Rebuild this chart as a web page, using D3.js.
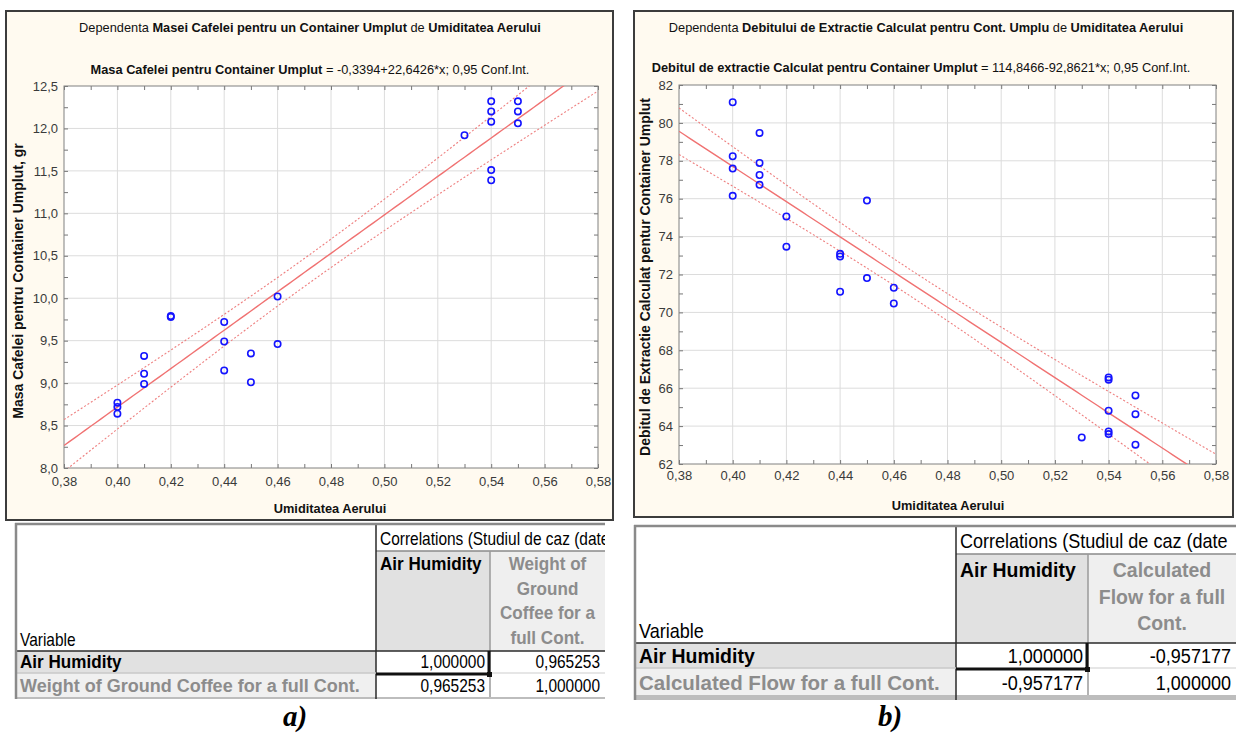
<!DOCTYPE html>
<html><head><meta charset="utf-8">
<script src="https://cdn.jsdelivr.net/npm/d3@7"></script>
<style>body{margin:0;background:#fff} svg{display:block;font-family:"Liberation Sans",Arial,sans-serif}</style>
</head><body>
<svg id="c" width="1236" height="735"></svg>
<script>
// ---------------- DATA ----------------
const humidityA = [0.40,0.40,0.40,0.41,0.41,0.41,0.42,0.42,0.44,0.44,0.44,0.45,0.45,0.46,0.46,0.53,0.54,0.54,0.54,0.54,0.54,0.55,0.55,0.55];
const coffeeMassA = [8.77,8.72,8.64,9.32,9.11,8.99,9.79,9.78,9.72,9.49,9.15,9.35,9.01,10.02,9.46,11.92,12.32,12.20,12.08,11.51,11.39,12.32,12.20,12.06];
const humidityB = [0.40,0.40,0.40,0.40,0.41,0.41,0.41,0.41,0.42,0.42,0.44,0.44,0.44,0.45,0.45,0.46,0.46,0.53,0.54,0.54,0.54,0.54,0.54,0.55,0.55,0.55];
const flowB = [81.09,78.24,77.59,76.15,79.47,77.89,77.25,76.73,75.06,73.47,73.09,72.95,71.09,75.90,71.81,71.30,70.47,63.40,66.57,66.45,64.81,63.72,63.58,65.62,64.63,63.02];
const fitA = [-0.3394, 22.6426];   // intercept, slope
const fitB = [114.8466, -92.8621];
const xTicks = [0.38,0.40,0.42,0.44,0.46,0.48,0.50,0.52,0.54,0.56,0.58];
const yTicksA = [8.0,8.5,9.0,9.5,10.0,10.5,11.0,11.5,12.0,12.5];
const yTicksB = [62,64,66,68,70,72,74,76,78,80,82];
const corrVarsA = ["Air Humidity","Weight of Ground Coffee for a full Cont."];
const corrA = [["1,000000","0,965253"],["0,965253","1,000000"]];
const corrVarsB = ["Air Humidity","Calculated Flow for a full Cont."];
const corrB = [["1,000000","-0,957177"],["-0,957177","1,000000"]];
const headA = ["Weight of","Ground","Coffee for a","full Cont."];
const headB = ["Calculated","Flow for a full","Cont."];
const tableTitle = "Correlations (Studiul de caz (date";

const svg = d3.select("#c");
const comma = s => s.replace(".", ",");

function tcrit(df){const z=1.959964;return z+(z**3+z)/(4*df)+(5*z**5+16*z**3+3*z)/(96*df*df);}

function chart(cfg){
  const g = svg.append("g");
  const F = cfg.frame;
  g.append("rect").attr("x",F[0]).attr("y",F[1]).attr("width",F[2]-F[0]).attr("height",F[3]-F[1])
    .attr("fill","#fffaf0").attr("stroke","#3c3c3c").attr("stroke-width",2);
  const P = cfg.plot;
  const x = d3.scaleLinear().domain([0.38,0.58]).range([P[0],P[2]]);
  const y = d3.scaleLinear().domain(cfg.yDomain).range([P[3],P[1]]);
  g.append("rect").attr("x",P[0]).attr("y",P[1]).attr("width",P[2]-P[0]).attr("height",P[3]-P[1]).attr("fill","#fff");
  g.append("g").selectAll("line").data(cfg.xTicks.slice(1,-1)).join("line")
    .attr("x1",d=>x(d)).attr("x2",d=>x(d)).attr("y1",P[1]).attr("y2",P[3]).attr("stroke","#dcdcdc");
  g.append("g").selectAll("line").data(cfg.yTicks.slice(1,-1)).join("line")
    .attr("y1",d=>y(d)).attr("y2",d=>y(d)).attr("x1",P[0]).attr("x2",P[2]).attr("stroke","#dcdcdc");
  [[d3.axisBottom,P[3]],[d3.axisTop,P[1]]].forEach(([ax,pos])=>{
    g.append("g").attr("transform",`translate(0,${pos})`).call(ax(x).tickValues(d3.range(0.38,0.5801,0.01)).tickSize(-4).tickFormat(""))
      .call(a=>{a.select(".domain").remove();a.selectAll("line").attr("stroke","#777");});
  });
  [[d3.axisLeft,P[0]],[d3.axisRight,P[2]]].forEach(([ax,pos])=>{
    g.append("g").attr("transform",`translate(${pos},0)`).call(ax(y).tickValues(d3.range(cfg.yDomain[0],cfg.yDomain[1]+1e-6,cfg.yStep/2)).tickSize(-4).tickFormat(""))
      .call(a=>{a.select(".domain").remove();a.selectAll("line").attr("stroke","#777");});
  });
  g.append("rect").attr("x",P[0]).attr("y",P[1]).attr("width",P[2]-P[0]).attr("height",P[3]-P[1])
    .attr("fill","none").attr("stroke","#808080");
  g.append("g").attr("transform",`translate(0,${P[3]})`)
    .call(d3.axisBottom(x).tickValues(cfg.xTicks).tickSize(0).tickPadding(cfg.xPad).tickFormat(d=>comma(d3.format(".2f")(d))))
    .call(a=>{a.select(".domain").remove();a.selectAll("text").attr("font-size",13).attr("fill","#3a3a3a").attr("font-family","Liberation Sans");});
  g.append("g").attr("transform",`translate(${P[0]},0)`)
    .call(d3.axisLeft(y).tickValues(cfg.yTicks).tickSize(0).tickPadding(cfg.yPad).tickFormat(d=>comma(d3.format(cfg.yFmt)(d))))
    .call(a=>{a.select(".domain").remove();a.selectAll("text").attr("font-size",13).attr("fill","#3a3a3a").attr("font-family","Liberation Sans");});
  const xs = cfg.xs, ys = cfg.ys, n = xs.length;
  const f = v => cfg.fit[0] + cfg.fit[1]*v;
  const xm = d3.mean(xs), Sxx = d3.sum(xs,v=>(v-xm)**2);
  const s = Math.sqrt(d3.sum(xs,(v,i)=>(ys[i]-f(v))**2)/(n-2));
  const t = tcrit(n-2);
  const hw = v => t*s*Math.sqrt(1/n + (v-xm)**2/Sxx);
  const grid = d3.range(0.38,0.5801,0.002);
  const clipId = "clip"+cfg.id;
  g.append("clipPath").attr("id",clipId).append("rect").attr("x",P[0]).attr("y",P[1]).attr("width",P[2]-P[0]).attr("height",P[3]-P[1]);
  const lc = g.append("g").attr("clip-path",`url(#${clipId})`);
  const line = k => d3.line().x(v=>x(v)).y(v=>y(f(v)+k*hw(v)));
  [1,-1].forEach(k=>lc.append("path").datum(grid).attr("d",line(k)).attr("fill","none").attr("stroke","#ee7f7f").attr("stroke-width",1.1).attr("stroke-dasharray","2,2"));
  lc.append("path").datum(grid).attr("d",line(0)).attr("fill","none").attr("stroke","#f07272").attr("stroke-width",1.4);
  g.append("g").selectAll("circle").data(xs).join("circle")
    .attr("cx",d=>x(d)).attr("cy",(d,i)=>y(ys[i])).attr("r",3.2).attr("fill","none").attr("stroke","#1414ff").attr("stroke-width",1.6);
  const rich = (parts, cx, cy, size) => {
    const tx = g.append("text").attr("x",cx).attr("y",cy).attr("text-anchor","middle").attr("font-size",size).attr("fill","#111");
    parts.forEach(p=>tx.append("tspan").attr("font-weight",p[1]?"bold":"normal").text(p[0]));
  };
  rich(cfg.title1, cfg.t1[0], cfg.t1[1], 12.8);
  rich(cfg.title2, cfg.t2[0], cfg.t2[1], 12.8);
  g.append("text").attr("x",cfg.xl[0]).attr("y",cfg.xl[1]).attr("text-anchor","middle").attr("font-size",12.8).attr("font-weight","bold").attr("fill","#111").text("Umiditatea Aerului");
  g.append("text").attr("transform",`translate(${cfg.yl[0]},${cfg.yl[1]}) rotate(-90)`).attr("text-anchor","middle").attr("font-size",cfg.ylSize).attr("font-weight","bold").attr("fill","#111").text(cfg.yLabel);
}

chart({id:"A",frame:[6,11,613,520],plot:[64,86,598,468],yDomain:[8,12.5],yStep:0.5,xTicks:xTicks,yTicks:yTicksA,yFmt:".1f",
  xPad:9,yPad:6,xs:humidityA,ys:coffeeMassA,fit:fitA,
  title1:[["Dependenta ",0],["Masei Cafelei pentru un Container Umplut",1],[" de ",0],["Umiditatea Aerului",1]],
  title2:[["Masa Cafelei pentru Container Umplut",1],[" = -0,3394+22,6426*x; 0,95 Conf.Int.",0]],
  t1:[310,32],t2:[310,74],xl:[330,513],yl:[23,281],ylSize:14,yLabel:"Masa Cafelei pentru Container Umplut, gr"});
chart({id:"B",frame:[634,11,1233,517],plot:[679,85,1216,464],yDomain:[62,82],yStep:2,xTicks:xTicks,yTicks:yTicksB,yFmt:".0f",
  xPad:7,yPad:6,xs:humidityB,ys:flowB,fit:fitB,
  title1:[["Dependenta ",0],["Debitului de Extractie Calculat pentru Cont. Umplu",1],[" de ",0],["Umiditatea Aerului",1]],
  title2:[["Debitul de extractie Calculat pentru Container Umplut",1],[" = 114,8466-92,8621*x; 0,95 Conf.Int.",0]],
  t1:[926,32],t2:[921,72],xl:[948,510],yl:[650,277],ylSize:14,yLabel:"Debitul de Extractie Calculat pentur Container Umplut"});

// ---------------- TABLES ----------------
function table(c){
  const g = svg.append("g");
  const id="tclip"+c.id;
  g.append("clipPath").attr("id",id).append("rect").attr("x",c.x[0]-2).attr("y",c.y[0]-2).attr("width",c.x[3]-c.x[0]+2).attr("height",c.y[5]-c.y[0]+4);
  const h = g.append("g").attr("clip-path",`url(#${id})`);
  const R=(x0,y0,x1,y1,fill)=>h.append("rect").attr("x",x0).attr("y",y0).attr("width",x1-x0).attr("height",y1-y0).attr("fill",fill);
  const L=(x0,y0,x1,y1,col,w)=>h.append("line").attr("x1",x0).attr("y1",y0).attr("x2",x1).attr("y2",y1).attr("stroke",col).attr("stroke-width",w||1);
  const T=(x,y,s,o)=>h.append("text").attr("transform",`translate(${x},${y}) scale(${o.sx||1},1)`).attr("text-anchor",o.anchor||"start")
      .attr("font-size",o.size).attr("font-weight",o.bold?"bold":"normal").attr("fill",o.fill||"#000").text(s);
  const X=c.x, Y=c.y;
  R(X[0],Y[0],X[3],Y[5],"#fff");
  R(X[1],Y[1],X[2],Y[2],"#e1e1e1"); R(X[2],Y[1],X[3],Y[2],"#efefef");
  R(X[0],Y[2],X[1],Y[3],"#e1e1e1"); R(X[0],Y[3],X[1],Y[4],"#f0f0f0");
  R(X[0],Y[4],X[3],Y[5],"#bdbdbd");
  L(X[1],Y[1],X[3],Y[1],"#8a8a8a",1.5);
  L(X[1],Y[0],X[1],Y[5],"#2a2a2a",1.5);
  L(X[2],Y[1],X[2],Y[4],"#9a9a9a",1.5);
  L(X[0],Y[2],X[3],Y[2],"#2a2a2a",1.5);
  L(X[0],Y[3],X[1],Y[3],"#c8c8c8",1.5); L(X[2],Y[3],X[3],Y[3],"#dedede",1.5);
  L(X[0]+1,Y[0],X[0]+1,Y[5],"#8a8a8a",2.5);
  L(X[0],Y[0]+1,X[3],Y[0]+1,"#8a8a8a",2.5);
  L(X[1],Y[3]+1,X[2],Y[3]+1,"#111",3); L(X[2]-1,Y[2],X[2]-1,Y[3]+2,"#111",3);
  h.append("rect").attr("x",X[2]-3).attr("y",Y[3]-1).attr("width",5).attr("height",5).attr("fill","#111");
  const fs=c.fs, sx=c.sx;
  T(X[1]+4,Y[1]-6,tableTitle,{size:fs,sx:sx});
  T(X[1]+4,Y[1]+c.hb,"Air Humidity",{size:fs,bold:true,sx:0.95});
  c.head.forEach((s,i)=>T((X[2]+X[3])/2,Y[1]+c.hb+i*c.lh,s,{size:fs,bold:true,anchor:"middle",fill:"#8c8c8c",sx:0.95}));
  T(X[0]+5,Y[2]-5,"Variable",{size:fs,sx:sx});
  T(X[0]+5,Y[3]-5,c.vars[0],{size:fs,bold:true,sx:0.95});
  T(X[0]+5,Y[4]-5,c.vars[1],{size:fs,bold:true,fill:"#8c8c8c"});
  c.vals.forEach((row,r)=>row.forEach((v,k)=>T(X[k+2]-5,Y[r+3]-5,v,{size:fs,sx:sx,anchor:"end"})));
}
table({id:"A",x:[15,376,490,605],y:[523,551,651,673,697,699],fs:18,sx:0.86,hb:19,lh:24.5,head:headA,vars:corrVarsA,vals:corrA});
table({id:"B",x:[634,956,1088,1236],y:[525,554,643,668,695,700],fs:20.5,sx:0.88,hb:23,lh:26.5,head:headB,vars:corrVarsB,vals:corrB});

// captions
[["a)",295],["b)",890]].forEach(([s,cx])=>svg.append("text").attr("x",cx).attr("y",726).attr("text-anchor","middle").attr("font-family","Liberation Serif")
  .attr("font-size",29).attr("font-weight","bold").attr("font-style","italic").text(s));
</script>
</body></html>
